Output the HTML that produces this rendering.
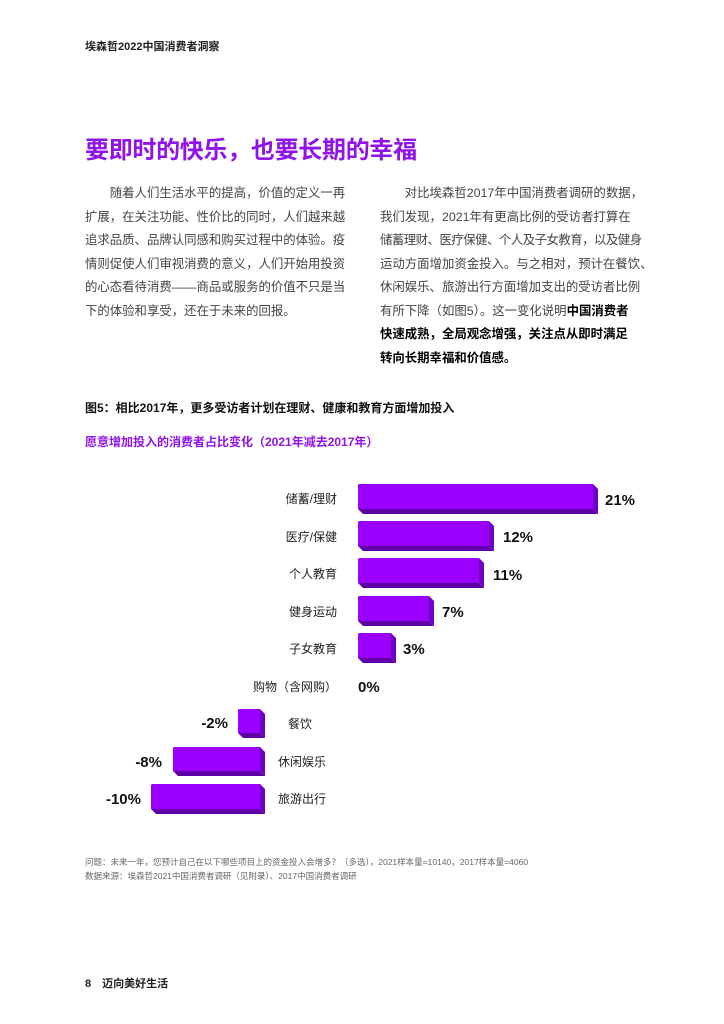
<!DOCTYPE html>
<html><head><meta charset="utf-8">
<style>
body{margin:0;width:724px;height:1024px;background:#fff;position:relative;overflow:hidden;font-family:"Liberation Sans","Noto Sans CJK SC",sans-serif;color:#333}
.a{position:absolute;white-space:nowrap}
.p{font-size:12.4px;line-height:23.5px;color:#444}
.p b{color:#000}
</style></head><body>
<div class="a" style="left:85px;top:38px;font-size:11px;font-weight:bold;color:#222">埃森哲2022中国消费者洞察</div>
<div class="a" style="left:85px;top:130px;font-size:24px;font-weight:bold;color:#9013e8;letter-spacing:-0.3px">要即时的快乐，也要长期的幸福</div>
<div class="a p" style="left:85px;top:182px">
<div>　　随着人们生活水平的提高，价值的定义一再</div>
<div>扩展，在关注功能、性价比的同时，人们越来越</div>
<div>追求品质、品牌认同感和购买过程中的体验。疫</div>
<div>情则促使人们审视消费的意义，人们开始用投资</div>
<div>的心态看待消费——商品或服务的价值不只是当</div>
<div>下的体验和享受，还在于未来的回报。</div>
</div>
<div class="a p" style="left:380px;top:182px">
<div>　　对比埃森哲2017年中国消费者调研的数据，</div>
<div>我们发现，2021年有更高比例的受访者打算在</div>
<div style="letter-spacing:-0.5px">储蓄理财、医疗保健、个人及子女教育，以及健身</div>
<div>运动方面增加资金投入。与之相对，预计在餐饮、</div>
<div>休闲娱乐、旅游出行方面增加支出的受访者比例</div>
<div>有所下降（如图5）。这一变化说明<b>中国消费者</b></div>
<div><b>快速成熟，全局观念增强，关注点从即时满足</b></div>
<div><b>转向长期幸福和价值感。</b></div>
</div>
<div class="a" style="left:85px;top:399px;font-size:12px;font-weight:bold;color:#111">图5：相比2017年，更多受访者计划在理财、健康和教育方面增加投入</div>
<div class="a" style="left:85px;top:433px;font-size:12px;font-weight:bold;color:#9013e8">愿意增加投入的消费者占比变化（2021年减去2017年）</div>

<svg class="a" style="left:0;top:0" width="724" height="1024" font-family="Liberation Sans, Noto Sans CJK SC, sans-serif">
<g font-size="12" fill="#222" text-anchor="end">
<text x="337" y="503">储蓄/理财</text>
<text x="337" y="541">医疗/保健</text>
<text x="337" y="578">个人教育</text>
<text x="337" y="616">健身运动</text>
<text x="337" y="653">子女教育</text>
<text x="337" y="691">购物（含网购）</text>
</g>
<g font-size="12" fill="#222">
<text x="288" y="728">餐饮</text>
<text x="278" y="766">休闲娱乐</text>
<text x="278" y="803">旅游出行</text>
</g>
<g font-size="15" font-weight="bold" fill="#111">
<text x="605" y="505">21%</text>
<text x="503" y="542">12%</text>
<text x="493" y="580">11%</text>
<text x="442" y="617">7%</text>
<text x="403" y="654">3%</text>
<text x="358" y="692">0%</text>
<text x="228" y="728" text-anchor="end">-2%</text>
<text x="162" y="767" text-anchor="end">-8%</text>
<text x="141" y="804" text-anchor="end">-10%</text>
</g>
<g id="bars"></g>
</svg>
<script>
var bars=[[358,598,484,514],[358,494,521,551],[358,484,558,588],[358,434,596,626],[358,396,633,663],[238,265,709,738],[173,265,747,776],[151,265,784,814]];
var g=document.getElementById('bars'),h='';
bars.forEach(function(b){var x0=b[0],x1=b[1],y0=b[2],y1=b[3],d=5;
h+='<polygon fill="#5e00a8" points="'+x0+','+(y1-d)+' '+(x1-d)+','+(y1-d)+' '+x1+','+y1+' '+(x0+d)+','+y1+'"/>';
h+='<polygon fill="#7000c4" points="'+(x1-d)+','+y0+' '+x1+','+(y0+d)+' '+x1+','+y1+' '+(x1-d)+','+(y1-d)+'"/>';
h+='<polygon fill="#9b00ff" points="'+(x0+1)+','+y0+' '+(x1-d)+','+y0+' '+(x1-d)+','+(y1-d)+' '+x0+','+(y1-d)+' '+x0+','+(y0+1)+'"/>';});
g.innerHTML=h;
</script>
<div class="a" style="left:85px;top:856px;font-size:8.5px;color:#666">问题：未来一年，您预计自己在以下哪些项目上的资金投入会增多？（多选），2021样本量=10140，2017样本量=4060</div>
<div class="a" style="left:85px;top:870px;font-size:8.5px;color:#666">数据来源：埃森哲2021中国消费者调研（见附录）、2017中国消费者调研</div>
<div class="a" style="left:85px;top:975px;font-size:11px;font-weight:bold;color:#222">8　迈向美好生活</div>
</body></html>
